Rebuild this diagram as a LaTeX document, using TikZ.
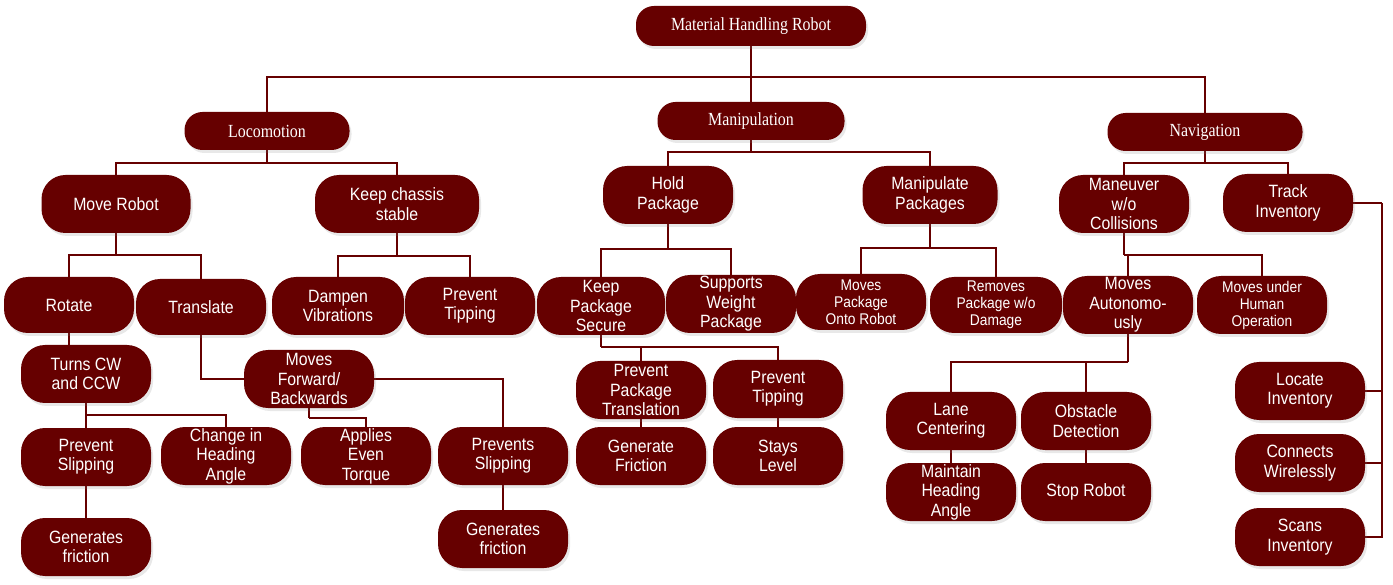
\documentclass[tikz,border=0pt]{standalone}
\usepackage{fontspec}
\setmainfont{Liberation Serif}
\newfontfamily\boxfont[FakeStretch=0.89]{Liberation Sans}
\newfontfamily\headfont[FakeStretch=0.86]{Liberation Serif}
\usetikzlibrary{shadows,backgrounds}
\definecolor{maroon}{RGB}{102,0,0}

\begin{document}
\begin{tikzpicture}[
        x=1pt, y=-1pt,
        every node/.style={text=white, align=center},
        box/.style={fill=maroon, rounded corners=24pt, minimum width=130, minimum height=58,
                    inner sep=1pt, font=\boxfont\fontsize{17.8}{19.4}\selectfont,
                    drop shadow={shadow xshift=2pt, shadow yshift=-3pt, opacity=0.18}},
        smallbox/.style={box, font=\boxfont\fontsize{15.5}{17}\selectfont},
        head/.style={box, rounded corners=18pt, minimum height=38,
                     font=\headfont\fontsize{18.5}{20}\selectfont},
        link/.style={draw=maroon, line width=1.8pt}
    ]
        \useasboundingbox (0,0) rectangle (1393,585);

        \node[head, minimum width=230, minimum height=40] (root) at (751,26) {Material Handling Robot};
        \node[head, minimum width=165] (loco) at (267,131) {Locomotion};
        \node[head, minimum width=187] (manip) at (751,121) {Manipulation};
        \node[head, minimum width=195] (nav) at (1205,132) {Navigation};

        \node[box, minimum width=149] (move) at (116,204) {Move Robot};
        \node[box, minimum width=164] (chassis) at (397,204) {Keep chassis\\stable};
        \node[box] (hold) at (668,195) {Hold\\Package};
        \node[box, minimum width=135] (manpk) at (930,195) {Manipulate\\Packages};
        \node[box] (maneuver) at (1124,204) {Maneuver\\w/o\\Collisions};
        \node[box] (track) at (1288,203) {Track\\Inventory};

        \node[box, minimum height=56] (rotate) at (69,305) {Rotate};
        \node[box, minimum height=56] (translate) at (201,307) {Translate};
        \node[box, minimum width=132] (dampen) at (338,306) {Dampen\\Vibrations};
        \node[box] (tipping) at (470,306) {Prevent\\Tipping};
        \node[box, minimum width=128] (secure) at (601,306) {Keep\\Package\\Secure};
        \node[box] (weight) at (731,304) {Supports\\Weight\\Package};
        \node[smallbox, minimum height=56] (onto) at (861,302) {Moves\\Package\\Onto Robot};
        \node[smallbox, minimum width=132, minimum height=56] (removes) at (996,305) {Removes\\Package w/o\\Damage};
        \node[box] (auto) at (1128,305) {Moves\\Autonomo-\\usly};
        \node[smallbox] (human) at (1262,305) {Moves under\\Human\\Operation};

        \node[box] (turns) at (86,374) {Turns CW\\and CCW};
        \node[box] (fwd) at (309,379) {Moves\\Forward/\\Backwards};
        \node[box] (prevslip) at (86,457) {Prevent\\Slipping};
        \node[box] (heading) at (226,456) {Change in\\Heading\\Angle};
        \node[box] (torque) at (366,456) {Applies\\Even\\Torque};
        \node[box] (prevsslip) at (503,456) {Prevents\\Slipping};
        \node[box] (fric) at (86,547) {Generates\\friction};
        \node[box] (fricb) at (503,539) {Generates\\friction};

        \node[box] (transl) at (641,390) {Prevent\\Package\\Translation};
        \node[box] (tippingb) at (778,389) {Prevent\\Tipping};
        \node[box] (genfric) at (641,456) {Generate\\Friction};
        \node[box] (level) at (778,456) {Stays\\Level};

        \node[box] (lane) at (951,421) {Lane\\Centering};
        \node[box] (obstacle) at (1086,421) {Obstacle\\Detection};
        \node[box] (keephead) at (951,492) {Maintain\\Heading\\Angle};
        \node[box] (stop) at (1086,492) {Stop Robot};

        \node[box] (locate) at (1300,391) {Locate\\Inventory};
        \node[box] (connects) at (1300,463) {Connects\\Wirelessly};
        \node[box] (scans) at (1300,537) {Scans\\Inventory};

        \begin{pgfonlayer}{background}
        \draw[link] (root.south) -- (manip.north);
        \coordinate (topbus) at (751,77);
        \draw[link] (loco.north) |- (topbus) -| (nav.north);

        \draw[link] (loco.south) -- ++(0,13) coordinate (b1);
        \draw[link] (move.north) |- (b1) -| (chassis.north);
        \draw[link] (manip.south) -- ++(0,12) coordinate (b2);
        \draw[link] (hold.north) |- (b2) -| (manpk.north);
        \draw[link] (nav.south) -- ++(0,12) coordinate (b3);
        \draw[link] (maneuver.north) |- (b3) -| (track.north);

        \draw[link] (move.south) -- ++(0,22) coordinate (b4);
        \draw[link] (rotate.north) |- (b4) -| (translate.north);
        \draw[link] (chassis.south) -- ++(0,23) coordinate (b5);
        \draw[link] (dampen.north) |- (b5) -| (tipping.north);
        \draw[link] (hold.south) -- ++(0,25) coordinate (b6);
        \draw[link] (secure.north) |- (b6) -| (weight.north);
        \draw[link] (manpk.south) -- ++(0,24) coordinate (b7);
        \draw[link] (onto.north) |- (b7) -| (removes.north);
        \draw[link] (maneuver.south) -- ++(0,22) coordinate (b8);
        \draw[link] (auto.north) |- (b8) -| (human.north);

        \draw[link] (rotate.south) -- (rotate.south |- turns.north);
        \draw[link] (translate.south) |- (fwd.west);
        \draw[link] (turns.south) -- ++(0,12) coordinate (b9);
        \draw[link] (b9) -- (prevslip.north);
        \draw[link] (b9) -| (heading.north);
        \draw[link] (prevslip.south) -- (fric.north);
        \draw[link] (fwd.south) -- ++(0,10) coordinate (b10);
        \draw[link] (b10) -| (torque.north);
        \draw[link] (fwd.east) -| (prevsslip.north);
        \draw[link] (prevsslip.south) -- (fricb.north);

        \draw[link] (secure.south) -- ++(0,12) coordinate (b11);
        \draw[link] (b11) -| (transl.north);
        \draw[link] (b11) -| (tippingb.north);
        \draw[link] (transl.south) -- (genfric.north);
        \draw[link] (tippingb.south) -- (level.north);

        \draw[link] (auto.south) -- ++(0,28) coordinate (b12);
        \draw[link] (b12) -| (lane.north);
        \draw[link] (b12) -| (obstacle.north);
        \draw[link] (lane.south) -- (keephead.north);
        \draw[link] (obstacle.south) -- (stop.north);

        \draw[link] (track.east) -- ++(29,0) coordinate (spine);
        \draw[link] (spine) |- (scans.east);
        \draw[link] (locate.east) -- (locate.east -| spine);
        \draw[link] (connects.east) -- (connects.east -| spine);
        \end{pgfonlayer}
    \end{tikzpicture}
\end{document}
